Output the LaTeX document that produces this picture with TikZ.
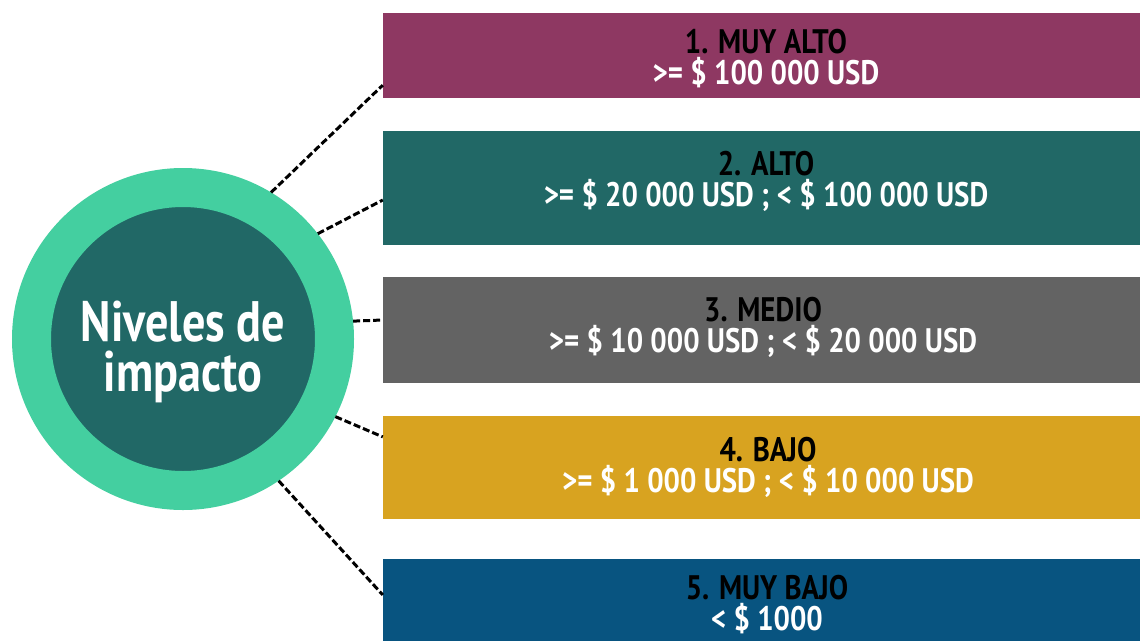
\documentclass[tikz,border=0pt]{standalone}
\usepackage{fontspec}
\setmainfont{PT Sans}
\newfontfamily\barfont[FakeStretch=0.85]{PT Sans}
\newfontfamily\circlefont[FakeStretch=0.81]{PT Sans}
\usetikzlibrary{calc}
\definecolor{nivpurple}{HTML}{8E3862}
\definecolor{nivteal}{HTML}{216866}
\definecolor{nivgray}{HTML}{636363}
\definecolor{nivgold}{HTML}{D8A320}
\definecolor{nivblue}{HTML}{085480}
\definecolor{nivring}{HTML}{44CFA0}
\begin{document}
\begin{tikzpicture}[x=1pt,y=-1pt,
  bar/.style={rectangle,minimum width=767pt,inner sep=0pt},
  bartext/.style={inner sep=0pt,text=white,align=center,
    font=\barfont\bfseries\fontsize{34}{31}\selectfont},
  link/.style={dash pattern=on 7pt off 3pt,line width=3pt}]
  \useasboundingbox (0,0) rectangle (1140,640);
  \clip (0,0) rectangle (1140,640);
  \node [circle,fill=nivteal,draw=nivring,line width=39pt,minimum size=303pt,inner sep=0pt] (impacto) at (183,339) {};
  \node [text=white,align=center,inner sep=0pt,font=\circlefont\bfseries\fontsize{57}{50}\selectfont]
    (impactotxt) at (183,352) {Niveles de\\impacto};
  \node [bar,fill=nivpurple,minimum height=85pt] (muyalto) at (766.5,55.5) {};
  \node [bar,fill=nivteal,minimum height=114pt] (alto) at (766.5,188) {};
  \node [bar,fill=nivgray,minimum height=106pt] (medio) at (766.5,330) {};
  \node [bar,fill=nivgold,minimum height=103pt] (bajo) at (766.5,467.5) {};
  \node [bar,fill=nivblue,minimum height=100pt] (muybajo) at (766.5,609) {};
  \node [bartext] (muyaltotxt) at (766,59) {\textcolor{black}{1. MUY ALTO}\\>= \$ 100 000 USD};
  \node [bartext] (altotxt) at (766,181) {\textcolor{black}{2. ALTO}\\>= \$ 20 000 USD ; < \$ 100 000 USD};
  \node [bartext] (mediotxt) at (763,327) {\textcolor{black}{3. MEDIO}\\>= \$ 10 000 USD ; < \$ 20 000 USD};
  \node [bartext] (bajotxt) at (768,467) {\textcolor{black}{4. BAJO}\\>= \$ 1 000 USD ; < \$ 10 000 USD};
  \node [bartext] (muybajotxt) at (767,605) {\textcolor{black}{5. MUY BAJO}\\< \$ 1000};
  \draw [link] (impacto.59.4) -- ($(muyalto.south west)!0.153!(muyalto.north west)$);
  \draw [link] (impacto.38.8) -- ($(alto.south west)!0.395!(alto.north west)$);
  \draw [link] (impacto.6.3) -- ($(medio.south west)!0.594!(medio.north west)$);
  \draw [link] (impacto.-27) -- ($(bajo.south west)!0.796!(bajo.north west)$);
  \draw [link] (impacto.-56) -- ($(muybajo.south west)!0.64!(muybajo.north west)$);
\end{tikzpicture}
\end{document}
